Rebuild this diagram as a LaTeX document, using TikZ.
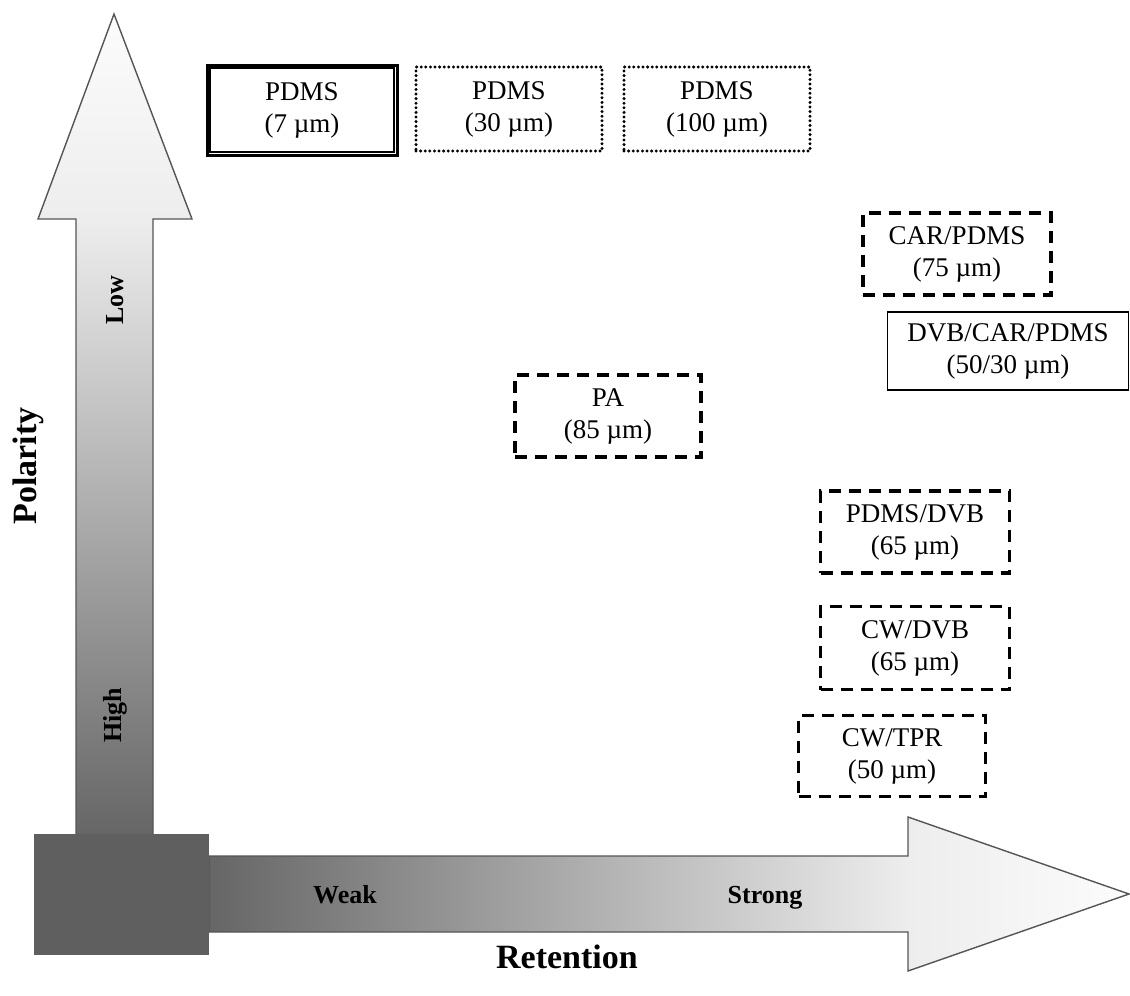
\documentclass[tikz,border=0pt]{standalone}
\usepackage{fontspec}
\setmainfont{Liberation Serif}
\definecolor{axisdark}{HTML}{666666}
\definecolor{axismid}{HTML}{EDEDED}
\definecolor{axislight}{HTML}{FCFCFC}
\definecolor{cornergray}{HTML}{5F5F5F}
\definecolor{edgegray}{HTML}{555555}
\pgfdeclareverticalshading{polshade}{100bp}{color(0bp)=(axisdark); color(25bp)=(axisdark); color(62.5bp)=(axismid); color(75bp)=(axislight); color(100bp)=(axislight)}
\pgfdeclarehorizontalshading{retshade}{100bp}{color(0bp)=(axisdark); color(25bp)=(axisdark); color(63bp)=(axismid); color(75bp)=(axislight); color(100bp)=(axislight)}
\tikzset{
  fibre/.style={align=center, inner sep=0pt, font=\fontsize{27}{32}\selectfont},
  dashbox/.style={fibre, draw, line width=3.4pt, dash pattern=on 12pt off 8pt},
  dotbox/.style={fibre, draw, line width=3.3pt, line cap=round, dash pattern=on 0pt off 4.6pt},
  plainbox/.style={fibre, draw, line width=1.5pt},
  dblbox/.style={fibre, draw, line width=3pt},
  axislabel/.style={font=\fontsize{26}{30}\selectfont\bfseries},
  axistitle/.style={font=\fontsize{34}{40}\selectfont\bfseries},
  arrowbody/.style={draw=edgegray, line width=1.4pt},
}
\begin{document}
\begin{tikzpicture}[x=1pt, y=-1pt]
\useasboundingbox (0, 0) rectangle (1130, 996);
\shadedraw[arrowbody, shading=polshade] (76, 835) -- (76, 219) -- (38, 219) -- (114, 14) -- (192, 219) -- (153, 219) -- (153, 835) -- cycle;
\shadedraw[arrowbody, shading=retshade] (209, 856) -- (908, 856) -- (908, 817) -- (1129, 894) -- (908, 971) -- (908, 932) -- (209, 932) -- cycle;
\fill[cornergray] (34, 834) rectangle (209, 955);

\node[axislabel, rotate=90] (low) at (115, 300) {Low};
\node[axislabel, rotate=90] (high) at (115, 715) {High};
\node[axislabel, anchor=base] (weak) at (345, 903) {Weak};
\node[axislabel, anchor=base] (strong) at (765, 903) {Strong};
\node[axistitle, rotate=90] (polarity) at (28, 466) {Polarity};
\node[axistitle, anchor=base] (retention) at (567, 968) {Retention};

\node[dblbox, minimum width=190, minimum height=90] (pdms7) at (302, 110) {PDMS\\(7 µm)};
\draw[line width=1.3pt] ([shift={(4.5, 4.5)}]pdms7.north west) rectangle ([shift={(-4.5, -4.5)}]pdms7.south east);
\node[dotbox, minimum width=186, minimum height=84] (pdms30) at (509, 109) {PDMS\\(30 µm)};
\node[dotbox, minimum width=186, minimum height=84] (pdms100) at (717, 109) {PDMS\\(100 µm)};
\node[dashbox, minimum width=188, minimum height=82] (carpdms) at (957, 254) {CAR/PDMS\\(75 µm)};
\node[plainbox, minimum width=241, minimum height=78] (dvbcar) at (1008, 351) {DVB/CAR/PDMS\\(50/30 µm)};
\node[dashbox, minimum width=186, minimum height=82] (pa) at (608, 416) {PA\\(85 µm)};
\node[dashbox, minimum width=189, minimum height=82] (pdmsdvb) at (915, 532) {PDMS/DVB\\(65 µm)};
\node[dashbox, minimum width=189, minimum height=83] (cwdvb) at (915, 648) {CW/DVB\\(65 µm)};
\node[dashbox, minimum width=187, minimum height=81] (cwtpr) at (892, 756) {CW/TPR\\(50 µm)};
\end{tikzpicture}
\end{document}
